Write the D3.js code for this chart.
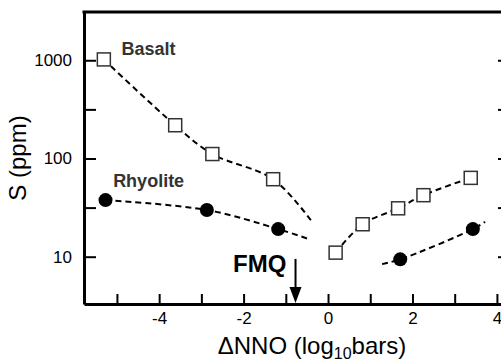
<!DOCTYPE html>
<html lang="en">
<head>
<meta charset="UTF-8">
<title>S vs NNO</title>
<script src="https://cdn.jsdelivr.net/npm/d3@7"></script>
<style>
  body { margin: 0; background: #fff; }
  svg { display: block; font-family: "Liberation Sans", Arial, sans-serif; }
</style>
</head>
<body>
<svg></svg>
<script>
    // measured points (deltaNNO, S ppm)
    var basaltX = [-5.31, -3.62, -2.74, -1.30, 0.18, 0.82, 1.66, 2.26, 3.38];
    var basaltS = [1020, 218, 111, 61.5, 11.0, 21.4, 31.1, 42.3, 63.5];
    var rhyoliteX = [-5.27, -2.87, -1.18, 1.71, 3.43];
    var rhyoliteS = [37.7, 29.9, 19.1, 9.4, 19.1];

    // dashed trend curves
    var basaltLow = [[-5.31, 1020], [-3.62, 218], [-2.74, 111], [-1.30, 61.5], [-0.38, 22.7]];
    var basaltHigh = [[0.18, 11.0], [0.82, 21.4], [1.66, 31.1], [2.26, 42.3], [3.38, 63.5]];
    var rhyoliteLow = [[-5.27, 37.7], [-2.87, 29.9], [-1.18, 19.1], [-0.43, 15.0]];
    var rhyoliteHigh = [[1.28, 8.4], [1.71, 9.4], [3.43, 19.1], [3.72, 22.7]];

    var xTicks = [-5, -4, -3, -2, -1, 0, 1, 2, 3, 4];
    var xLabels = [-4, -2, 0, 2, 4];
    var yTicks = [10, 31.62, 100, 316.2, 1000];
    var yLabels = [10, 100, 1000];
    var fmq = -0.77;

    var width = 501;
    var height = 360;
    var svg = d3.select('svg')
                    .attr('width', width)
                    .attr('height', height);

    var x = d3.scaleLinear().domain([-5.78, 4.31]).range([84, 510]);
    var y = d3.scaleLog().domain([3.3, 3100]).range([304, 12]);

    var fmt = function(d) { return String(d); };

    // axes, ticks pointing inward
    var gx = svg.append('g')
            .attr('transform', 'translate(0,' + y.range()[0] + ')')
            .call(d3.axisBottom(x).tickValues(xTicks).tickSizeInner(-10).tickSizeOuter(0).tickPadding(8)
                .tickFormat(function(d) { return xLabels.indexOf(d) >= 0 ? fmt(d) : ''; }));
    var gy = svg.append('g')
            .attr('transform', 'translate(' + x.range()[0] + ',0)')
            .call(d3.axisLeft(y).tickValues(yTicks).tickSizeInner(-12).tickSizeOuter(0).tickPadding(12)
                .tickFormat(function(d) { return yLabels.indexOf(d) >= 0 ? fmt(d) : ''; }));
    var gr = svg.append('g')
            .attr('transform', 'translate(' + x.range()[1] + ',0)')
            .call(d3.axisRight(y).tickValues(yTicks).tickSizeInner(-12).tickSizeOuter(0).tickFormat(''));

    svg.selectAll('.domain').attr('stroke', '#000').attr('stroke-width', 3);
    svg.selectAll('.tick line').attr('stroke', '#000').attr('stroke-width', 2);
    svg.selectAll('.tick text')
            .attr('font-family', '"Liberation Sans", Arial, sans-serif')
            .attr('font-size', 17)
            .attr('fill', '#000');

    // top border
    svg.append('line')
            .attr('x1', x.range()[0] - 1.5).attr('x2', x.range()[1])
            .attr('y1', y.range()[1]).attr('y2', y.range()[1])
            .attr('stroke', '#000').attr('stroke-width', 3);

    // dashed curves
    var line = d3.line()
            .x(function(d) { return x(d[0]); })
            .y(function(d) { return y(d[1]); })
            .curve(d3.curveCatmullRom);
    svg.selectAll('path.trend')
            .data([basaltLow, basaltHigh, rhyoliteLow, rhyoliteHigh])
            .enter()
            .append('path')
            .attr('class', 'trend')
            .attr('d', line)
            .attr('fill', 'none')
            .attr('stroke', '#000')
            .attr('stroke-width', 2)
            .attr('stroke-dasharray', '6,4');

    // basalt: open squares
    var sq = 13;
    svg.selectAll('rect.basalt')
            .data(basaltX)
            .enter()
            .append('rect')
            .attr('class', 'basalt')
            .attr('x', function(d) { return x(d) - sq / 2; })
            .attr('y', function(d, i) { return y(basaltS[i]) - sq / 2; })
            .attr('width', sq)
            .attr('height', sq)
            .attr('fill', '#fff')
            .attr('stroke', '#333')
            .attr('stroke-width', 1.5);

    // rhyolite: filled circles
    svg.selectAll('circle.rhyolite')
            .data(rhyoliteX)
            .enter()
            .append('circle')
            .attr('class', 'rhyolite')
            .attr('cx', function(d) { return x(d); })
            .attr('cy', function(d, i) { return y(rhyoliteS[i]); })
            .attr('r', 7)
            .attr('fill', '#000');

    // labels
    svg.append('text')
            .attr('x', x(-4.89)).attr('y', y(1132))
            .attr('font-size', 18).attr('font-weight', 'bold').attr('fill', '#333')
            .text('Basalt');
    svg.append('text')
            .attr('x', x(-5.09)).attr('y', y(51.6))
            .attr('font-size', 18).attr('font-weight', 'bold').attr('fill', '#333')
            .text('Rhyolite');

    // FMQ marker
    svg.append('text')
            .attr('x', x(-2.25)).attr('y', y(7.0))
            .attr('font-size', 24).attr('font-weight', 'bold').attr('fill', '#000')
            .text('FMQ');
    svg.append('line')
            .attr('x1', x(fmq)).attr('x2', x(fmq))
            .attr('y1', y(9.5)).attr('y2', y.range()[0] - 14)
            .attr('stroke', '#000').attr('stroke-width', 2);
    svg.append('path')
            .attr('d', 'M' + (x(fmq) - 6) + ',' + (y.range()[0] - 17) +
                       'L' + (x(fmq) + 6) + ',' + (y.range()[0] - 17) +
                       'L' + x(fmq) + ',' + (y.range()[0] - 1) + 'Z')
            .attr('fill', '#000');

    // axis titles
    var xt = svg.append('text')
            .attr('x', 312).attr('y', 354)
            .attr('text-anchor', 'middle')
            .attr('font-size', 24)
            .attr('fill', '#000');
    xt.append('tspan').text('\u0394NNO (log');
    xt.append('tspan').attr('font-size', 16).attr('dy', 5).text('10');
    xt.append('tspan').attr('dy', -5).text('bars)');

    svg.append('text')
            .attr('transform', 'translate(26,158) rotate(-90)')
            .attr('text-anchor', 'middle')
            .attr('font-size', 24)
            .attr('fill', '#000')
            .text('S (ppm)');
</script>
</body>
</html>
